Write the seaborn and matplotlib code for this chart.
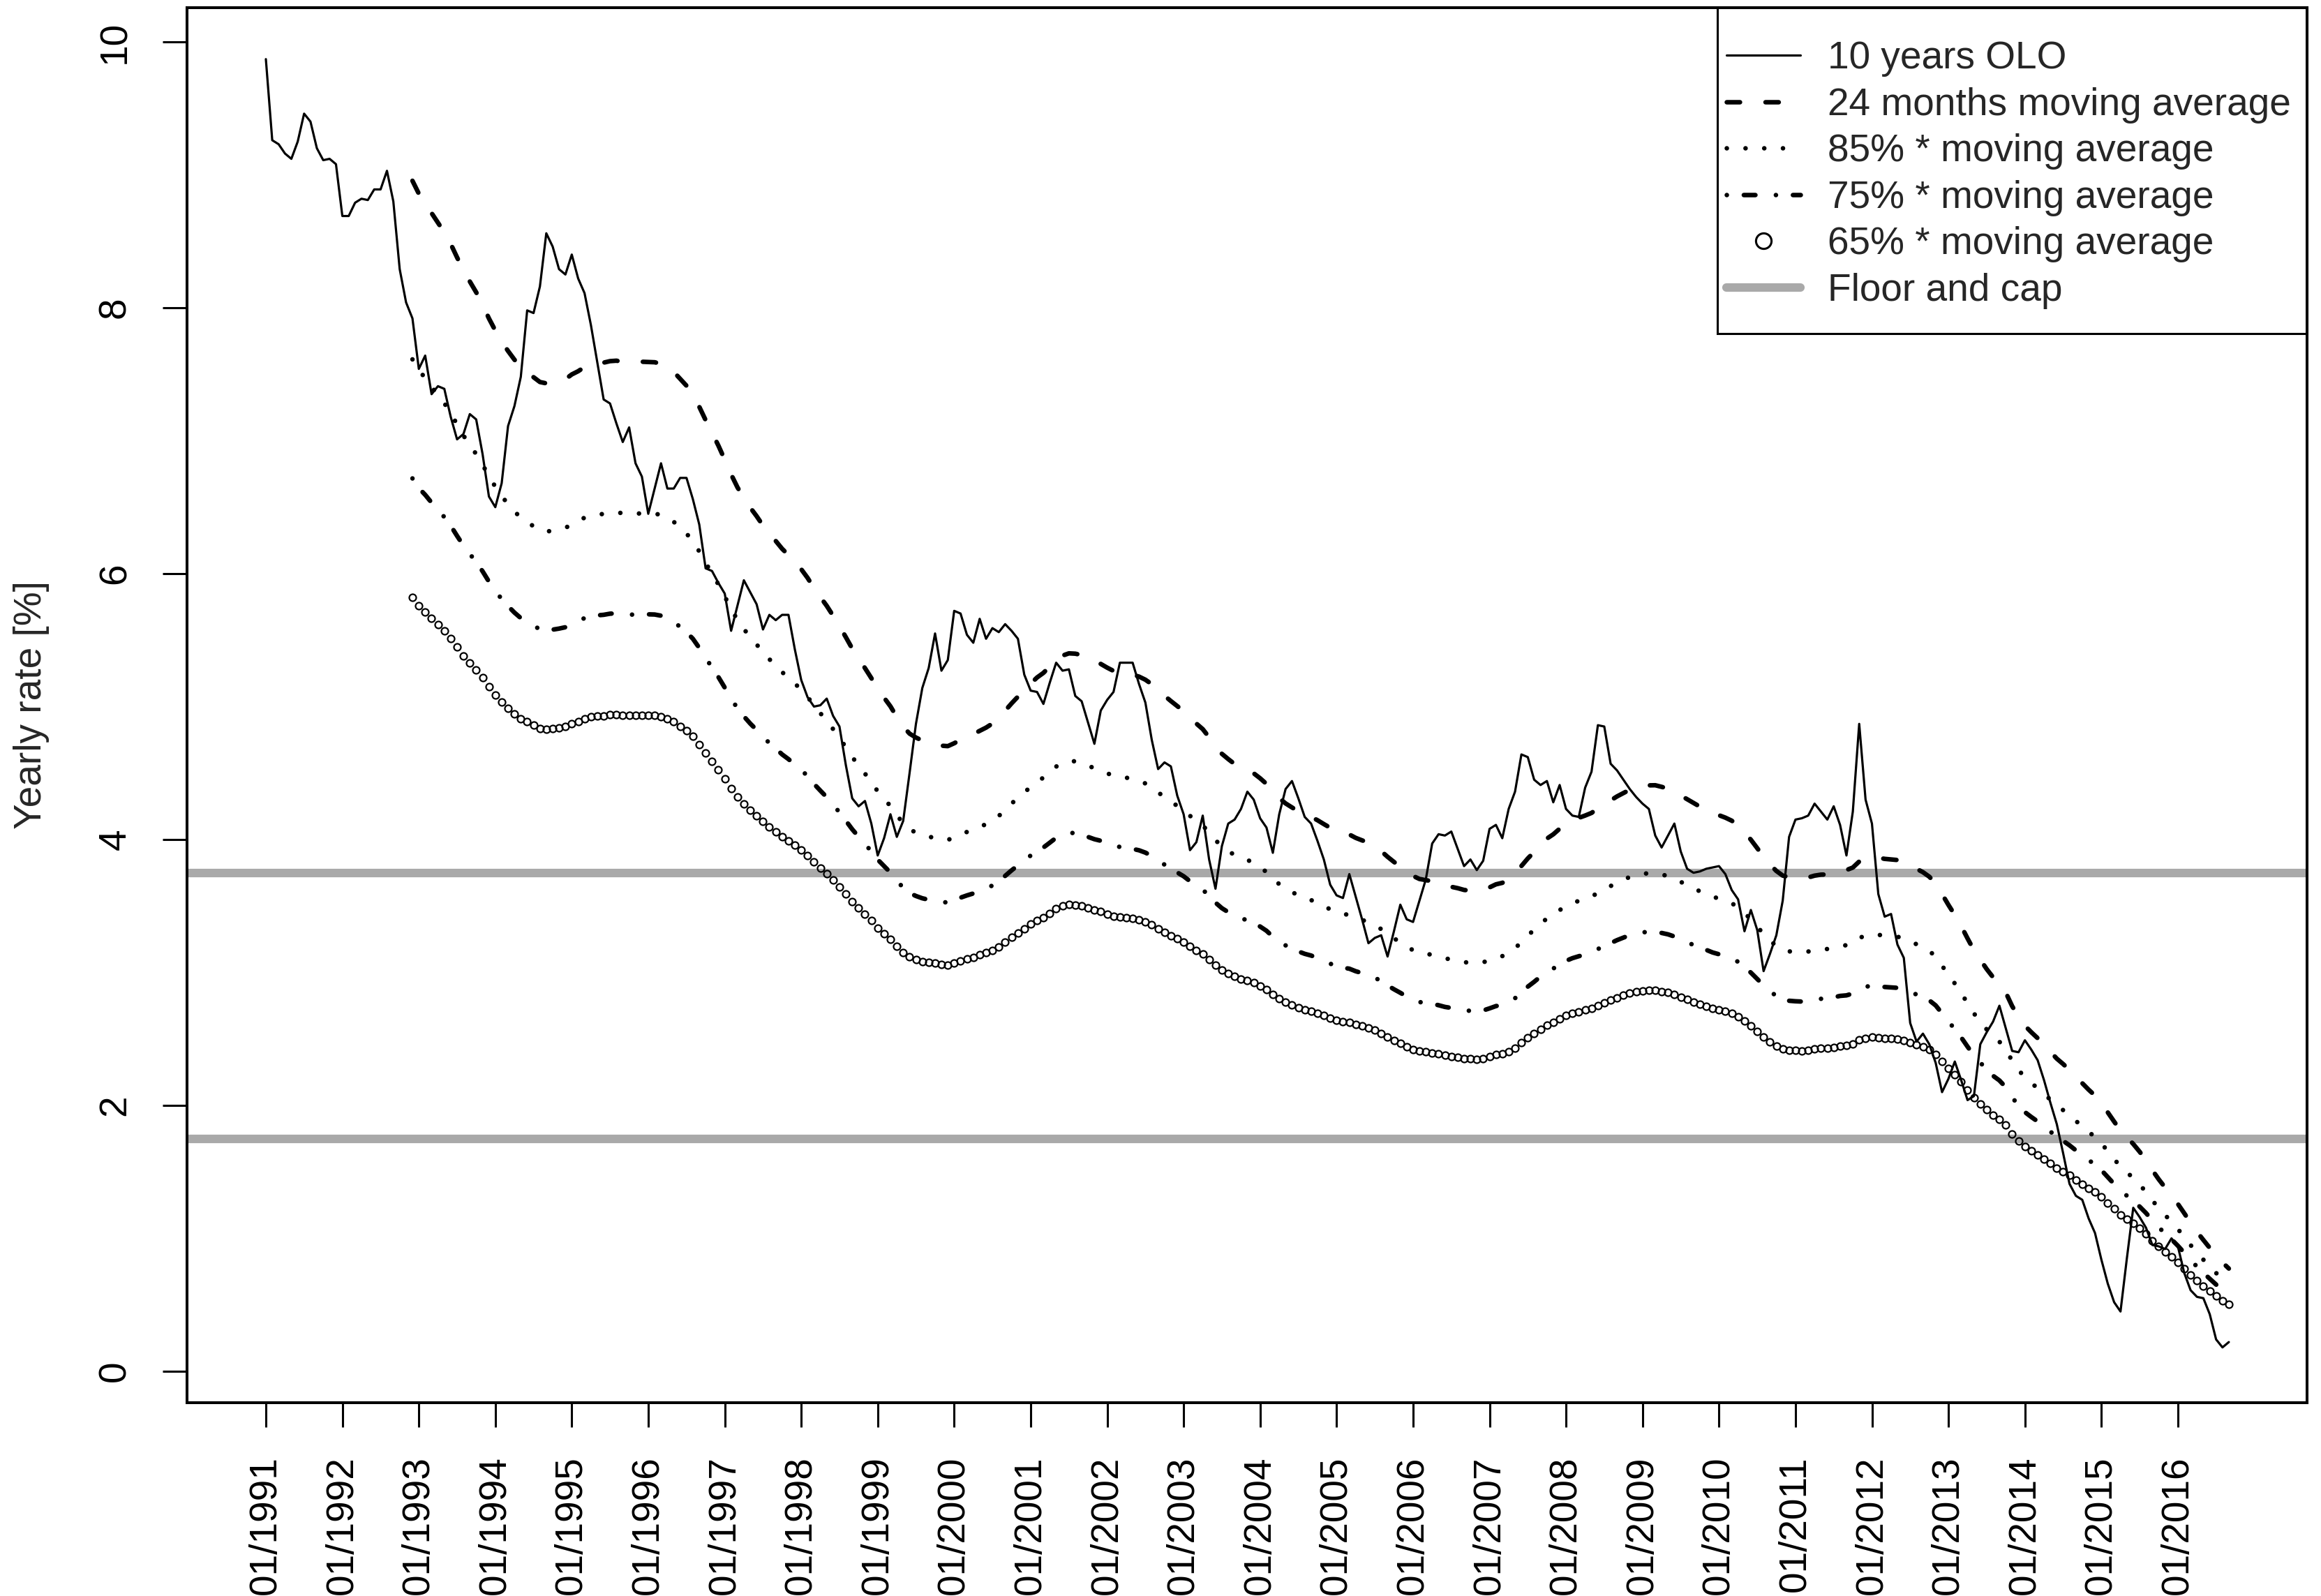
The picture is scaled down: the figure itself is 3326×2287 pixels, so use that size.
import numpy as np
import pandas as pd
import matplotlib.pyplot as plt
import seaborn as sns
from matplotlib.lines import Line2D
from matplotlib.patches import Rectangle

# ---------------- data ----------------
# 10 years OLO, monthly values from 01/1991 to 09/2016
olo_10y = [
    9.87, 9.26, 9.23, 9.16, 9.12, 9.25, 9.46, 9.40, 9.20, 9.11, 9.12, 9.08,  # 1991
    8.69, 8.69, 8.79, 8.82, 8.81, 8.89, 8.89, 9.03, 8.80, 8.29, 8.04, 7.92,  # 1992
    7.54, 7.64, 7.35, 7.41, 7.39, 7.18, 7.01, 7.05, 7.20, 7.16, 6.90, 6.58,  # 1993
    6.50, 6.68, 7.11, 7.26, 7.48, 7.98, 7.96, 8.16, 8.56, 8.46, 8.29, 8.25,  # 1994
    8.40, 8.22, 8.11, 7.87, 7.59, 7.31, 7.28, 7.13, 6.99, 7.10, 6.83, 6.73,  # 1995
    6.45, 6.64, 6.83, 6.64, 6.64, 6.72, 6.72, 6.56, 6.37, 6.04, 6.02, 5.93,  # 1996
    5.85, 5.57, 5.76, 5.95, 5.86, 5.77, 5.58, 5.69, 5.65, 5.69, 5.69, 5.43,  # 1997
    5.20, 5.07, 5.00, 5.01, 5.06, 4.93, 4.85, 4.56, 4.31, 4.25, 4.29, 4.12,  # 1998
    3.88, 4.01, 4.19, 4.02, 4.14, 4.50, 4.87, 5.14, 5.29, 5.55, 5.27, 5.35,  # 1999
    5.72, 5.70, 5.54, 5.48, 5.66, 5.51, 5.59, 5.56, 5.62, 5.57, 5.51, 5.24,  # 2000
    5.12, 5.11, 5.02, 5.18, 5.33, 5.27, 5.28, 5.08, 5.04, 4.88, 4.72, 4.97,  # 2001
    5.05, 5.11, 5.33, 5.33, 5.33, 5.17, 5.03, 4.75, 4.53, 4.58, 4.55, 4.33,  # 2002
    4.19, 3.92, 3.98, 4.18, 3.85, 3.63, 3.95, 4.12, 4.15, 4.23, 4.36, 4.30,  # 2003
    4.16, 4.09, 3.90, 4.19, 4.38, 4.44, 4.31, 4.17, 4.12, 3.99, 3.85, 3.66,  # 2004
    3.58, 3.56, 3.74, 3.57, 3.40, 3.22, 3.26, 3.28, 3.12, 3.31, 3.51, 3.40,  # 2005
    3.38, 3.54, 3.70, 3.97, 4.04, 4.03, 4.06, 3.93, 3.80, 3.85, 3.77, 3.84,  # 2006
    4.08, 4.11, 4.01, 4.23, 4.36, 4.64, 4.62, 4.45, 4.41, 4.44, 4.28, 4.41,  # 2007
    4.23, 4.18, 4.17, 4.39, 4.51, 4.86, 4.85, 4.57, 4.52, 4.45, 4.38, 4.32,  # 2008
    4.27, 4.23, 4.03, 3.94, 4.03, 4.12, 3.91, 3.78, 3.75, 3.76, 3.78, 3.79,  # 2009
    3.80, 3.74, 3.62, 3.55, 3.31, 3.47, 3.32, 3.01, 3.14, 3.28, 3.54, 4.02,  # 2010
    4.15, 4.16, 4.18, 4.27, 4.21, 4.15, 4.25, 4.11, 3.88, 4.21, 4.87, 4.30,  # 2011
    4.12, 3.59, 3.42, 3.44, 3.21, 3.11, 2.62, 2.48, 2.54, 2.46, 2.32, 2.10,  # 2012
    2.20, 2.33, 2.19, 2.04, 2.07, 2.46, 2.55, 2.63, 2.75, 2.58, 2.41, 2.40,  # 2013
    2.49, 2.42, 2.34, 2.19, 2.02, 1.86, 1.64, 1.41, 1.32, 1.29, 1.15, 1.04,  # 2014
    0.84, 0.66, 0.52, 0.45, 0.85, 1.23, 1.16, 1.08, 0.95, 0.94, 0.92, 1.00,  # 2015
    0.94, 0.74, 0.61, 0.56, 0.55, 0.43, 0.24, 0.18, 0.22,                    # 2016
]
years = list(range(1991, 2017))
tick_labels = [f"01/{y}" for y in years]
ma_window = 24
ma_shares = [0.85, 0.75, 0.65]
floor_cap = [1.75, 3.75]
legend_labels = ["10 years OLO", "24 months moving average",
                 "85% * moving average", "75% * moving average",
                 "65% * moving average", "Floor and cap"]

# ---------------- derived series ----------------
df = pd.DataFrame({"month": np.arange(len(olo_10y)), "olo": olo_10y})
df["ma"] = df["olo"].rolling(ma_window).mean()
df["ma85"] = ma_shares[0] * df["ma"]
df["ma75"] = ma_shares[1] * df["ma"]
df["ma65"] = ma_shares[2] * df["ma"]

# ---------------- style ----------------
sns.set_style("ticks")
plt.rcParams["font.family"] = ["Liberation Sans", "DejaVu Sans"]

FS = 19.8
GRAY = "#A9A9A9"
LW_THIN = 1.15
LW_THICK = 2.35
dash_ma = (0, (2.9, 5.6))
dot_85 = (0, (0.01, 4.1))
dotdash_75 = (0, (0.01, 3.73, 2.54, 4.5))

fig = plt.figure(figsize=(16.63, 11.435), dpi=200)
ax = fig.add_axes([0.08058, 0.12112, 0.99399 - 0.08058, 0.99519 - 0.12112])

for lvl in floor_cap:
    ax.axhline(lvl, color=GRAY, lw=4.4, zorder=1)

sns.lineplot(data=df, x="month", y="olo", ax=ax, color="black",
             lw=LW_THIN, errorbar=None, zorder=3)
sns.lineplot(data=df, x="month", y="ma", ax=ax, color="black", lw=LW_THICK,
             linestyle=dash_ma, dash_capstyle="round", errorbar=None, zorder=3)
sns.lineplot(data=df, x="month", y="ma85", ax=ax, color="black", lw=LW_THICK,
             linestyle=dot_85, dash_capstyle="round", errorbar=None, zorder=3)
sns.lineplot(data=df, x="month", y="ma75", ax=ax, color="black", lw=LW_THICK,
             linestyle=dotdash_75, dash_capstyle="round", errorbar=None, zorder=3)
sns.lineplot(data=df, x="month", y="ma65", ax=ax, color="black",
             linestyle="none", marker="o", markersize=3.6,
             markerfacecolor="none", markeredgecolor="black",
             markeredgewidth=0.8, errorbar=None, zorder=3)

# ---------------- axes ----------------
ax.set_xlim(-12.37, 320.27)
ax.set_ylim(-0.236, 10.257)
ax.set_xticks(np.arange(0, 12 * len(years), 12))
ax.set_xticklabels(tick_labels, rotation=90)
ax.set_yticks([0, 2, 4, 6, 8, 10])
ax.set_yticklabels(["0", "2", "4", "6", "8", "10"], rotation=90, va="center")
ax.tick_params(direction="out", length=12.5, width=1.1, labelsize=FS,
               pad=15, colors="black")
for sp in ax.spines.values():
    sp.set_visible(True)
    sp.set_linewidth(1.45)
    sp.set_color("black")
ax.set_xlabel("")
ax.set_ylabel("Yearly rate [%]", fontsize=FS)
ax.yaxis.set_label_coords(-0.0648, 0.5)

# ---------------- legend ----------------
handles = [
    Line2D([], [], color="black", lw=LW_THIN),
    Line2D([], [], color="black", lw=LW_THICK, linestyle=dash_ma,
           dash_capstyle="round"),
    Line2D([], [], color="black", lw=LW_THICK, linestyle=dot_85,
           dash_capstyle="round"),
    Line2D([], [], color="black", lw=LW_THICK, linestyle=dotdash_75,
           dash_capstyle="round"),
    Line2D([], [], color="black", linestyle="none", marker="o",
           markersize=8.0, markerfacecolor="none", markeredgewidth=1.1),
    Line2D([], [], color=GRAY, lw=4.4, solid_capstyle="round"),
]
ax.legend(handles, legend_labels, loc="upper left",
          bbox_to_anchor=(0.7262, 0.9764), frameon=False, fontsize=FS,
          borderpad=0, borderaxespad=0, handlelength=1.93,
          handletextpad=0.70, labelspacing=0.265)
ax.add_patch(Rectangle((0.7219, 0.7664), 0.2781, 0.2336, transform=ax.transAxes,
                       fill=False, lw=1.1, edgecolor="black", zorder=6,
                       clip_on=False))

fig.savefig("out.png", dpi=200)
